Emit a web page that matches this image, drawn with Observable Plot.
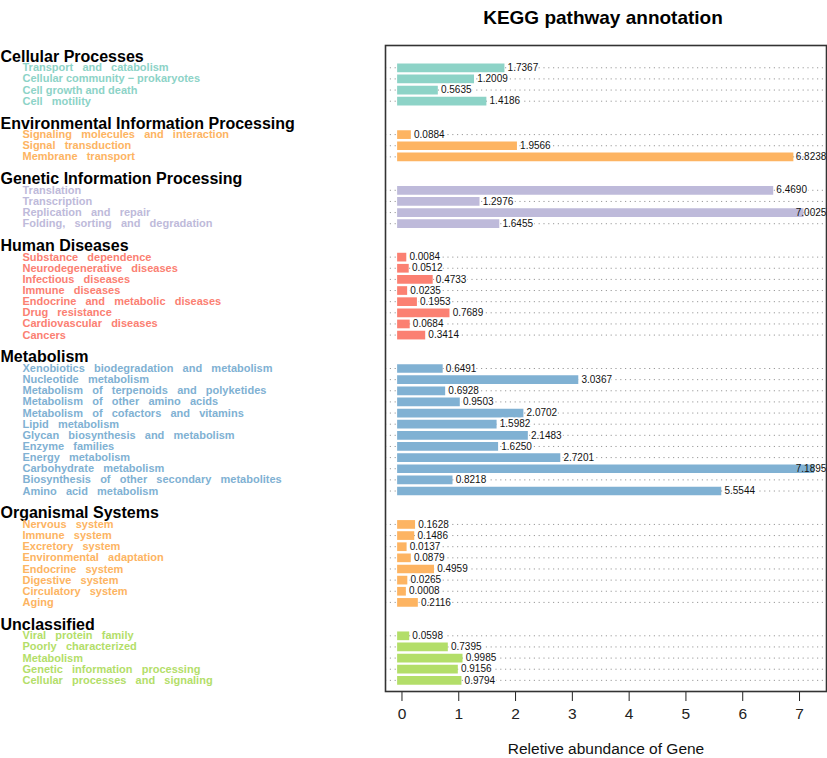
<!DOCTYPE html>
<html>
<head>
<meta charset="utf-8">
<script src="https://cdn.jsdelivr.net/npm/d3@7"></script>
<script src="https://cdn.jsdelivr.net/npm/@observablehq/plot@0.6"></script>
<style>
  html, body { margin: 0; padding: 0; background: #fff; }
  #chart svg { display: block; }
</style>
</head>
<body>
<div id="chart"></div>
<script>
const title = "KEGG pathway annotation";
const xLabel = "Reletive abundance of Gene";
const xTicks = [0, 1, 2, 3, 4, 5, 6, 7];

const groups = ["Cellular Processes", "Environmental Information Processing", "Genetic Information Processing", "Human Diseases", "Metabolism", "Organismal Systems", "Unclassified"];
const groupColors = ["#8dd3c7", "#fdb462", "#bebada", "#fb8072", "#80b1d3", "#fdb462", "#b3de69"];

const cellularLabels = ["Transport   and   catabolism", "Cellular community \u2212 prokaryotes", "Cell growth and death", "Cell   motility"];
const cellularValues = [1.7367, 1.2009, 0.5635, 1.4186];

const environmentalLabels = ["Signaling   molecules   and   interaction", "Signal   transduction", "Membrane   transport"];
const environmentalValues = [0.0884, 1.9566, 6.8238];

const geneticLabels = ["Translation", "Transcription", "Replication   and   repair", "Folding,   sorting   and   degradation"];
const geneticValues = [6.4690, 1.2976, 7.0025, 1.6455];

const humanLabels = ["Substance   dependence", "Neurodegenerative   diseases", "Infectious   diseases", "Immune   diseases", "Endocrine   and   metabolic   diseases", "Drug   resistance", "Cardiovascular   diseases", "Cancers"];
const humanValues = [0.0084, 0.0512, 0.4733, 0.0235, 0.1953, 0.7689, 0.0684, 0.3414];

const metabolismLabels = ["Xenobiotics   biodegradation   and   metabolism", "Nucleotide   metabolism", "Metabolism   of   terpenoids   and   polyketides", "Metabolism   of   other   amino   acids", "Metabolism   of   cofactors   and   vitamins", "Lipid   metabolism", "Glycan   biosynthesis   and   metabolism", "Enzyme   families", "Energy   metabolism", "Carbohydrate   metabolism", "Biosynthesis   of   other   secondary   metabolites", "Amino   acid   metabolism"];
const metabolismValues = [0.6491, 3.0367, 0.6928, 0.9503, 2.0702, 1.5982, 2.1483, 1.6250, 2.7201, 7.1895, 0.8218, 5.5544];

const organismalLabels = ["Nervous   system", "Immune   system", "Excretory   system", "Environmental   adaptation", "Endocrine   system", "Digestive   system", "Circulatory   system", "Aging"];
const organismalValues = [0.1628, 0.1486, 0.0137, 0.0879, 0.4959, 0.0265, 0.0008, 0.2116];

const unclassifiedLabels = ["Viral   protein   family", "Poorly   characterized", "Metabolism", "Genetic   information   processing", "Cellular   processes   and   signaling"];
const unclassifiedValues = [0.0598, 0.7395, 0.9985, 0.9156, 0.9794];

const groupLabels = [cellularLabels, environmentalLabels, geneticLabels, humanLabels, metabolismLabels, organismalLabels, unclassifiedLabels];
const groupValues = [cellularValues, environmentalValues, geneticValues, humanValues, metabolismValues, organismalValues, unclassifiedValues];

// Build row table: each group = header slot + item slots, one blank slot between groups
const headers = [];
const rows = [];
let slot = 0;
groups.forEach((g, gi) => {
  headers.push({group: g, slot, color: groupColors[gi]});
  slot += 1;
  groupLabels[gi].forEach((lab, i) => {
    rows.push({group: g, label: lab, value: groupValues[gi][i], slot, color: groupColors[gi]});
    slot += 1;
  });
  slot += 1;
});
const lastSlot = slot - 2;

const labelLimit = 6.81;
const nb = s => s.replace(/ /g, "\u00a0");
const fmt = d3.format(".4f");

const chart = Plot.plot({
  width: 827,
  height: 758,
  marginLeft: 385,
  marginRight: 1,
  marginTop: 45,
  marginBottom: 67,
  style: {fontFamily: "'Liberation Sans', Arial, Helvetica, sans-serif", fontSize: "15.5px", color: "#222", background: "#fff"},
  x: {domain: [-0.29, 7.475], ticks: 8, tickSize: 10, tickPadding: 6, label: null},
  y: {domain: [-1, lastSlot + 1], reverse: true, axis: null},
  marks: [
    Plot.ruleY(rows, {y: "slot", stroke: "#9a9a9a", strokeWidth: 1, strokeDasharray: "1.2,3.6"}),
    Plot.ruleY(rows, {y: "slot", x1: 0, x2: "value", stroke: "color", strokeWidth: 8.7, strokeLinecap: "square"}),
    Plot.text(rows, {
      y: "slot",
      x: d => Math.min(d.value, labelLimit),
      text: d => fmt(d.value),
      textAnchor: "start",
      dx: 7,
      fontSize: 10,
      fill: "#111",
      stroke: d => d.value > labelLimit ? "none" : "white",
      strokeWidth: 3
    }),
    Plot.frame({stroke: "#333", strokeWidth: 1.6}),
    Plot.text(headers, {
      y: "slot",
      frameAnchor: "left",
      text: d => d.group,
      textAnchor: "start",
      dx: -385,
      fontSize: 16,
      fontWeight: "bold",
      fill: "#000"
    }),
    Plot.text(rows, {
      y: "slot",
      frameAnchor: "left",
      text: d => nb(d.label),
      textAnchor: "start",
      dx: -363,
      fontSize: 11,
      fontWeight: "bold",
      fill: "color"
    }),
    Plot.text([title], {
      frameAnchor: "top",
      text: d => d,
      dy: -35,
      dx: -3,
      fontSize: 19,
      fontWeight: "bold",
      fill: "#000"
    }),
    Plot.text([xLabel], {
      frameAnchor: "bottom",
      text: d => d,
      dy: 62,
      fontSize: 15.5,
      fill: "#111"
    })
  ]
});
document.getElementById("chart").appendChild(chart);
</script>
</body>
</html>
